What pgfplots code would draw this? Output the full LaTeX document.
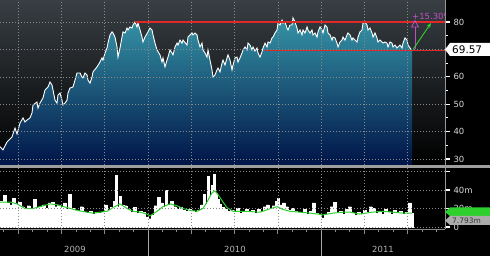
\documentclass[border=0pt]{standalone}
\usepackage{pgfplots}
\pgfplotsset{compat=1.18}
\usepackage{pgfplotstable}
\usepackage{fontspec}
\setmainfont{DejaVu Sans}
\usetikzlibrary{arrows.meta}
\definecolor{bgtop}{HTML}{383E43}
\definecolor{bgmid}{HTML}{15181B}
\definecolor{areatop}{HTML}{3594A6}
\definecolor{areamid}{HTML}{13567C}
\definecolor{areabot}{HTML}{001448}
\definecolor{redline}{HTML}{E02828}
\definecolor{magline}{HTML}{C050C8}
\definecolor{arrowgreen}{HTML}{30D030}
\definecolor{magreen}{HTML}{2ED02E}
\definecolor{labgray}{HTML}{DADADA}
\definecolor{yeargray}{HTML}{B4B4B4}
\definecolor{gridgray}{HTML}{8A8A8A}

\pgfplotstableread{
x y
0 34.5
3 33.3
7 36.2
12 38.0
15 41.3
17 39.1
20 43.1
23 45.0
25 43.5
27 44.2
30 45.0
32 46.8
33 49.7
37 50.8
38 48.6
40 50.4
43 52.3
45 55.2
48 56.3
50 58.1
52 57.0
53 55.2
55 51.5
57 50.4
58 53.4
60 54.1
62 51.5
63 49.7
65 50.4
67 51.5
68 54.1
70 55.9
73 56.3
75 58.8
77 61.4
80 61.4
82 59.9
83 59.6
85 61.4
87 60.7
88 58.8
90 57.7
92 59.9
93 61.8
97 63.6
100 65.4
102 66.9
103 66.1
105 68.7
107 70.5
108 72.3
110 75.3
112 76.4
113 76.0
115 74.5
117 70.9
118 67.2
120 70.5
122 74.5
123 76.4
125 76.0
127 77.8
128 77.1
130 78.2
132 77.8
133 78.9
135 80.0
137 78.2
138 79.6
140 77.1
142 74.5
143 72.7
145 74.5
148 76.4
150 77.8
152 77.1
153 75.3
155 72.3
157 69.8
160 68.0
162 65.4
163 66.9
165 63.6
167 66.1
168 67.2
170 69.8
172 68.7
173 68.0
175 70.9
177 72.3
178 71.6
180 73.4
182 72.3
183 73.4
187 71.6
188 74.5
190 75.3
192 76.0
193 75.3
195 76.0
197 75.3
198 73.4
200 70.9
202 72.3
203 69.8
205 68.7
207 67.2
208 69.8
210 66.1
212 62.5
213 59.9
215 60.7
217 62.5
218 63.2
220 61.8
222 65.0
223 66.1
225 64.3
227 66.9
228 68.0
230 66.1
232 62.5
233 64.3
235 66.9
237 67.2
238 65.4
240 66.9
242 68.7
243 69.8
245 70.9
247 69.8
248 72.3
250 71.6
252 69.8
253 70.9
255 69.4
257 70.5
258 68.7
260 67.2
262 69.1
263 70.5
265 72.3
267 70.9
268 72.7
270 72.3
272 74.2
273 74.5
275 76.0
277 77.1
278 79.6
280 78.9
282 80.7
283 79.6
285 80.0
287 77.8
288 77.1
290 78.9
292 78.9
293 81.5
295 80.0
297 77.8
298 76.0
300 77.1
302 75.3
303 77.1
305 76.0
307 78.2
308 77.1
310 76.0
312 77.1
313 75.3
315 76.0
317 74.5
318 76.4
320 78.2
322 77.1
323 76.0
325 78.9
327 78.2
328 76.0
330 75.3
332 73.4
333 74.5
335 74.2
337 72.3
338 70.9
340 72.7
342 73.4
343 74.5
345 73.4
347 75.3
348 76.0
350 75.3
352 73.4
353 74.2
355 73.4
357 72.7
358 74.5
360 76.4
362 77.1
363 79.6
365 80.0
367 78.9
368 77.1
370 77.8
372 76.0
373 74.5
375 76.0
377 74.2
378 72.7
380 73.4
382 72.7
383 72.3
385 72.7
387 72.3
388 70.9
390 72.7
392 72.3
393 70.9
395 71.6
397 70.5
398 70.9
400 71.6
402 70.5
403 72.3
405 74.2
407 73.4
408 71.6
410 70.5
412 69.57
}\price

\pgfplotstableread{
x v
0 28
3 34
6 26
9 24
12 31
15 25
18 27
21 22
24 20
27 23
30 19
33 30
36 21
39 22
42 24
45 20
48 26
51 27
54 22
57 24
60 21
63 26
66 19
68 35
71 20
74 18
77 17
80 22
83 16
86 15
89 17
92 14
95 16
98 15
101 16
104 24
107 18
110 21
113 28
115 56
117 22
119 33
121 24
124 23
127 19
130 16
133 21
136 15
139 17
142 16
145 11
148 9
151 13
154 23
157 32
160 26
163 22
165 40
167 24
170 28
173 22
176 19
179 21
182 18
185 17
188 19
191 17
194 16
197 18
200 24
203 35
205 25
207 55
209 33
211 45
213 57
215 37
217 30
219 25
221 21
224 19
227 17
230 18
233 16
236 20
239 15
242 17
245 19
248 16
251 18
254 15
257 19
260 16
263 22
266 24
269 20
272 23
275 28
277 31
279 24
282 26
285 22
288 18
291 20
294 17
297 16
300 15
303 19
306 14
309 17
312 26
315 15
318 13
321 10
324 14
327 16
330 22
333 27
336 15
339 17
342 14
345 19
348 22
351 15
354 13
357 16
360 14
363 18
366 16
369 22
372 20
375 15
378 17
381 14
384 19
387 16
390 14
393 18
396 15
399 17
402 14
405 16
408 26
411 15
413 15
}\vol

\pgfplotstableread{
x m
0 27
10 27
17 25
25 20
33 20
40 22
50 25
57 24
67 21
77 18
87 16
93 15
100 16
107 17
113 21
120 25
127 20
133 17
140 16
147 14
150 12
157 17
163 22
170 25
177 23
183 20
190 18
197 17
203 20
207 27
212 37
215 39
218 35
223 27
227 21
233 17
245 17
260 16
268 19
277 22
283 19
290 17
300 16
310 15
318 14
322 13
333 15
343 16
350 16
360 14
372 16
383 17
393 16
403 15
412 15
}\ma

\begin{document}
\begin{tikzpicture}[x=1bp,y=1bp]
\fill[black] (0bp,0bp) rectangle (490bp,256bp);
\useasboundingbox (0bp,0bp) rectangle (490bp,256bp);

\pgfplotsset{
  chartbase/.style={
    anchor=south west, scale only axis, width=445bp,
    xmin=0, xmax=445,
    axis line style={draw=none},
    axis on top,
    tick align=outside,
    major tick length=5bp, minor tick length=3bp,
    ytick pos=right, yticklabel pos=right,
    ytick style={white, line width=1.1bp},
    grid=major,
    major grid style={gridgray, line width=0.5bp, dash pattern=on 1bp off 2bp},
    minor grid style={draw=none},
    yticklabel style={font=\fontsize{8.5}{9}\selectfont, color=labgray},
    /pgf/number format/assume math mode=true,
  }
}

% price panel
\begin{axis}[chartbase,
  at={(0bp,91bp)}, height=165bp,
  ymin=27.81, ymax=88.03,
  axis background/.style={top color=bgtop, middle color=bgmid, bottom color=black},
  xtick={18.2,61.5,104.7,148,191.3,234.5,277.8,321,364.3,407.5},
  xticklabels={}, xtick style={draw=none},
  ytick={30,40,50,60,70,80}, yticklabels={30,40,50,60,,80},
  minor ytick={35,45,55,65,75},
]
\addplot[draw=none, top color=areatop, middle color=areamid, bottom color=areabot] table[x=x,y=y] {\price} \closedcycle;
\addplot[white, line width=0.9bp] table[x=x,y=y] {\price};
\end{axis}

% volume panel
\begin{axis}[chartbase,
  at={(0bp,27bp)}, height=61bp,
  ymin=-2.16, ymax=63.8,
  xtick={18.2,61.5,104.7,148,191.3,234.5,277.8,321,364.3,407.5},
  xticklabels={},
  minor xtick={3.8,32.6,47.1,75.9,90.3,119.2,133.6,162.4,176.8,205.7,220.1,248.9,263.4,292.2,306.6,335.4,349.8,378.7,393.1,421.9,436.4},
  xtick pos=left,
  xtick style={gridgray, line width=0.8bp},
  ytick={0,20,40,60}, yticklabels={0,20m,40m,},
  extra x ticks={75,235,383},
  extra x tick labels={2009,2010,2011},
  extra x tick style={grid=none, major tick length=0pt,
    xticklabel style={yshift=-14bp, color=yeargray, font=\fontsize{8.5}{9}\selectfont}},
]
\addplot[const plot, fill=white, draw=white, line width=0.3bp] table[x=x,y=v] {\vol} \closedcycle;
\addplot[magreen, line width=1bp] table[x=x,y=m] {\ma};
\end{axis}

% panel separators and axis lines
\fill[gray!75] (0,88) rectangle (490,91);
\draw[gray!80, line width=0.6bp] (445,27) -- (445,256);
\draw[gridgray, line width=0.6bp] (0,27) -- (445,27);
\draw[gray!70, line width=0.5bp] (148.5,0) -- (148.5,25);
\draw[gray!70, line width=0.5bp] (321.5,0) -- (321.5,25);

% horizontal level lines (80 and 69.57 on the price scale)
\draw[redline, line width=1.7bp] (135,234.0) -- (445,234.0);
\draw[redline, line width=1.7bp] (265,205.4) -- (445,205.4);

% annotations
\draw[magline, line width=0.8bp] (415,206.5) -- (415,229);
\draw[magline, line width=0.8bp] (411.5,229) -- (418.5,229) -- (415,235.5) -- cycle;
\begin{scope}
\clip (400,230) rectangle (445,256);
\node[anchor=west, inner sep=0pt, text=magline, font=\fontsize{8.5}{9}\selectfont] at (412,240) {+15.30\%};
\end{scope}
\draw[arrowgreen, line width=0.9bp, -{Stealth[length=5bp,width=4bp]}] (413,206.5) -- (431,233);

% last-value tags
\fill[white] (445,206.5) -- (450,213) -- (490,213) -- (490,200) -- (450,200) -- cycle;
\node[anchor=west, inner sep=0pt, font=\fontsize{10.5}{11}\selectfont] at (452,206.5) {69.57};
\fill[magreen] (445,44) -- (450,48.5) -- (490,48.5) -- (490,40) -- (450,40) -- cycle;
\fill[gray!65] (445,35.5) -- (450,40) -- (490,40) -- (490,31) -- (450,31) -- cycle;
\node[anchor=west, inner sep=0pt, text=black!80, font=\fontsize{7.5}{8}\selectfont] at (452,35.5) {7.793m};
\end{tikzpicture}
\end{document}
